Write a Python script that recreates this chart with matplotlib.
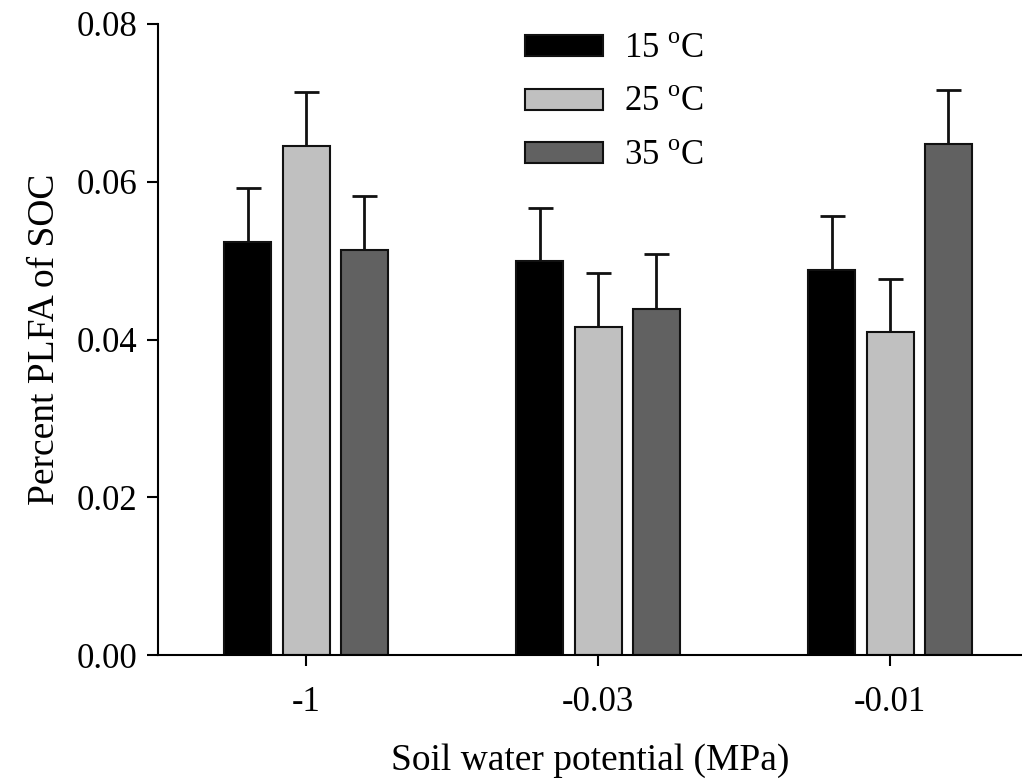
import numpy as np
import matplotlib
matplotlib.use('Agg')
import matplotlib.pyplot as plt

plt.rcParams['font.family'] = ['Liberation Serif', 'DejaVu Serif']
plt.rcParams['mathtext.fontset'] = 'custom'
plt.rcParams['mathtext.rm'] = 'Liberation Serif'

# data
potentials = ['-1', '-0.03', '-0.01']
temps = ['15 $^\\mathrm{o}$C', '25 $^\\mathrm{o}$C', '35 $^\\mathrm{o}$C']
plfa_15 = [0.0524, 0.0499, 0.0488]
plfa_25 = [0.0645, 0.0416, 0.0409]
plfa_35 = [0.0514, 0.0439, 0.0648]
err_15 = [0.0068, 0.0068, 0.0068]
err_25 = [0.0069, 0.0068, 0.0068]
err_35 = [0.0068, 0.0069, 0.0068]

colors = ['#000000', '#C0C0C0', '#616161']

fig = plt.figure(figsize=(10.22, 7.84), dpi=100)
ax = fig.add_axes([158 / 1022, 129 / 784, 1 - 158 / 1022, 631 / 784])

x = np.arange(len(potentials))
width = 0.161
offset = 0.2
series = [plfa_15, plfa_25, plfa_35]
errs = [err_15, err_25, err_35]
for i, (vals, e) in enumerate(zip(series, errs)):
    xs = x + (i - 1) * offset
    ax.bar(xs, vals, width, color=colors[i], edgecolor='#111111', linewidth=1.5,
           label=temps[i], zorder=2)
    ax.errorbar(xs, vals, yerr=[np.zeros(len(e)), e], fmt='none', ecolor='#111111',
                elinewidth=2, capsize=9, capthick=2, zorder=1)

ax.set_xlim(-0.507, 2.452)
ax.set_ylim(0, 0.08)
ax.set_yticks([0, 0.02, 0.04, 0.06, 0.08])
ax.set_yticklabels(['0.00', '0.02', '0.04', '0.06', '0.08'])
ax.set_xticks(x)
ax.set_xticklabels(potentials)
ax.tick_params(axis='both', labelsize=25, length=8, width=1.5, direction='out')
ax.tick_params(axis='x', pad=14)
ax.tick_params(axis='y', pad=7)
for s in ['top', 'right']:
    ax.spines[s].set_visible(False)
for s in ['left', 'bottom']:
    ax.spines[s].set_linewidth(1.5)

ax.set_xlabel('Soil water potential (MPa)', fontsize=27, labelpad=18)
ax.set_ylabel('Percent PLFA of SOC', fontsize=27, labelpad=10)

ax.legend(loc='upper left', bbox_to_anchor=(0.389, 1.036), frameon=False, fontsize=25,
          handlelength=2.25, handleheight=0.55, handletextpad=0.6, labelspacing=0.6)

fig.savefig('out.png', dpi=100)
